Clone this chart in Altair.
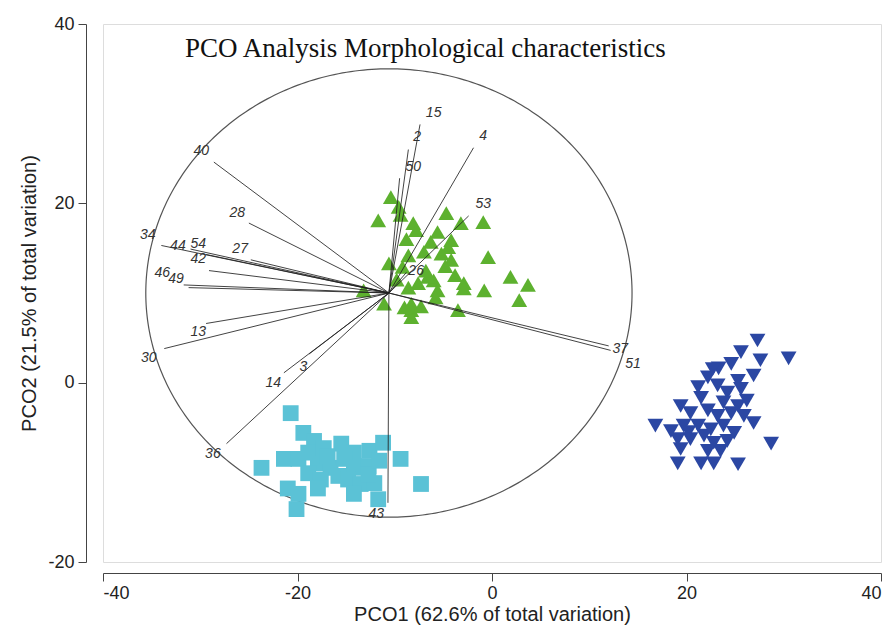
import altair as alt
import numpy as np
import pandas as pd

# ---- sample scores ----
green_x = [-10.4, -11.7, -9.6, -9.4, -8.1, -7.8, -4.7, -5.6, -3.2, -0.9, -4.2, -6.3, -7.0, -5.2, -4.2,
           -8.6, -10.6, -9.2, -0.4, 1.9, 3.7, 2.8, -0.8, -2.9, -2.9, -6.0, -5.6, -7.6, -8.6, -8.3,
           -8.3, -8.3, -9.0, -3.5, -11.1, -13.2, -6.6, -4.5, -6.8, -3.8, -9.8, -5.8, -8.8, -7.3, -4.8]
green_y = [20.7, 18.1, 19.6, 18.7, 17.8, 17.0, 18.9, 16.8, 17.8, 17.9, 15.9, 15.7, 14.6, 14.4, 13.7,
           14.2, 13.3, 12.9, 14.0, 11.8, 10.9, 9.2, 10.3, 11.1, 10.5, 11.4, 10.3, 11.1, 10.6, 8.8,
           8.1, 7.3, 8.4, 8.1, 8.8, 10.3, 11.8, 15.1, 12.5, 12.0, 11.5, 9.5, 16.0, 8.5, 13.0]

blue_x = [27.3, 25.6, 27.6, 24.6, 23.3, 26.9, 25.3, 22.2, 23.2, 24.2, 25.6, 21.5, 23.8, 25.3, 19.4,
          20.4, 22.2, 23.2, 24.6, 25.9, 26.9, 16.8, 18.4, 19.7, 21.2, 22.5, 23.8, 24.9, 19.1, 20.4,
          21.8, 22.8, 23.5, 22.2, 19.4, 19.1, 21.5, 22.8, 25.3, 28.7, 30.5, 21.2, 20.2, 24.2, 22.7, 26.2]
blue_y = [4.7, 3.4, 2.5, 2.1, 1.6, 0.8, 0.2, 0.6, -0.3, -1.1, -0.7, -1.7, -2.2, -2.6, -2.6,
          -3.4, -3.1, -3.7, -3.4, -3.7, -4.5, -4.8, -5.4, -4.8, -4.8, -5.2, -4.8, -5.6, -6.3, -6.3,
          -5.9, -6.7, -7.6, -7.6, -7.4, -9.0, -9.0, -9.0, -9.1, -6.8, 2.7, -0.5, -5.5, -6.5, 1.5, -2.0]

cyan_x = [-20.7, -19.4, -18.3, -23.7, -21.4, -19.9, -18.9, -17.3, -15.5, -14.2, -12.6, -11.2, -9.4,
          -7.3, -17.9, -16.6, -15.2, -14.2, -12.7, -18.9, -17.6, -15.8, -14.8, -13.5, -12.1, -17.9,
          -21.0, -19.9, -20.1, -14.2, -11.7, -12.7, -16.9, -11.6]
cyan_y = [-3.4, -5.6, -6.5, -9.5, -8.5, -8.5, -7.8, -7.3, -6.8, -7.8, -7.6, -6.7, -8.5,
          -11.3, -9.0, -9.5, -8.5, -9.5, -9.3, -10.1, -10.8, -10.4, -10.8, -11.3, -11.2, -11.8,
          -11.8, -12.4, -14.1, -12.4, -13.0, -10.2, -8.2, -8.7]

# ---- variable vectors ----
origin_x, origin_y = -10.6, 10.0
circle_radius = 25.0
vec_names = ["15", "2", "50", "4", "53", "26", "37", "51", "40", "28", "34", "44", "54", "27",
             "42", "46", "49", "13", "30", "14", "3", "36", "43"]
vec_x = [-7.4, -8.6, -9.5, -1.9, -2.4, -8.8, 12.0, 12.2, -28.6, -25.0, -34.0, -31.0, -29.4, -24.8,
         -29.1, -31.7, -31.2, -29.4, -33.7, -21.4, -18.8, -27.3, -10.7]
vec_y = [28.8, 26.0, 22.8, 26.2, 18.6, 12.3, 4.1, 3.6, 24.6, 17.8, 15.3, 14.9, 14.3, 13.7,
         12.5, 10.9, 10.6, 6.6, 3.8, 1.1, 3.2, -6.8, -13.4]
lab_x = [-6.0, -7.7, -8.1, -0.9, -0.9, -7.8, 13.2, 14.5, -29.9, -26.2, -35.4, -32.3, -30.2, -25.9,
         -30.2, -33.9, -32.5, -30.2, -35.3, -22.5, -19.4, -28.7, -11.9]
lab_y = [30.1, 27.4, 24.1, 27.5, 19.9, 12.5, 3.8, 2.1, 25.8, 18.9, 16.5, 15.2, 15.5, 14.9,
         13.8, 12.2, 11.6, 5.7, 2.7, 0.0, 1.8, -8.0, -14.7]

groups = ["A", "B", "C"]
group_colors = ["#5DB12F", "#2B47A3", "#5BC2D6"]
group_shapes = ["triangle-up", "triangle-down", "square"]

pts = pd.concat([
    pd.DataFrame({"x": green_x, "y": green_y, "g": "A"}),
    pd.DataFrame({"x": blue_x, "y": blue_y, "g": "B"}),
    pd.DataFrame({"x": cyan_x, "y": cyan_y, "g": "C"}),
], ignore_index=True)

vec = pd.DataFrame({"name": vec_names, "x": vec_x, "y": vec_y, "lx": lab_x, "ly": lab_y,
                    "x0": origin_x, "y0": origin_y})

theta = np.linspace(0, 2 * np.pi, 361)
circ = pd.DataFrame({"x": origin_x + circle_radius * np.cos(theta),
                     "y": origin_y + circle_radius * np.sin(theta),
                     "o": np.arange(len(theta))})

xs = alt.Scale(domain=[-40, 40], nice=False, zero=False)
ys = alt.Scale(domain=[-20, 40], nice=False, zero=False)

common = dict(grid=False, tickSize=8, labelFontSize=18, titleFontSize=20,
              labelFont="Liberation Sans", titleFont="Liberation Sans", titleFontWeight="normal",
              domainColor="#444", tickColor="#444", labelColor="#222", titleColor="#222",
              labelExpr="'' + datum.value")
xaxis = alt.Axis(values=[-40, -20, 0, 20, 40], title="PCO1 (62.6% of total variation)",
                 offset=11, labelPadding=3, titlePadding=2, **common)
yaxis = alt.Axis(values=[-20, 0, 20, 40], title="PCO2 (21.5% of total variation)",
                 offset=17, labelPadding=4, titlePadding=8, **common)

circle = alt.Chart(circ).mark_line(color="#555", strokeWidth=1.2).encode(
    x=alt.X("x:Q", scale=xs, axis=xaxis),
    y=alt.Y("y:Q", scale=ys, axis=yaxis),
    order="o:Q",
)

points = alt.Chart(pts).mark_point(filled=True, opacity=1).encode(
    x=alt.X("x:Q", scale=xs),
    y=alt.Y("y:Q", scale=ys),
    color=alt.Color("g:N", scale=alt.Scale(domain=groups, range=group_colors), legend=None),
    shape=alt.Shape("g:N", scale=alt.Scale(domain=groups, range=group_shapes), legend=None),
    size=alt.Size("g:N", scale=alt.Scale(domain=groups, range=[250, 250, 230]), legend=None),
)

lines = alt.Chart(vec).mark_rule(color="#222", strokeWidth=1, opacity=0.85).encode(
    x=alt.X("x0:Q", scale=xs), y=alt.Y("y0:Q", scale=ys),
    x2="x:Q", y2="y:Q",
)

labels = alt.Chart(vec).mark_text(font="Liberation Sans", fontStyle="italic", fontSize=14,
                                  color="#333").encode(
    x=alt.X("lx:Q", scale=xs), y=alt.Y("ly:Q", scale=ys), text="name:N",
)

chart = alt.layer(circle, points, lines, labels).properties(
    width=778, height=538,
    autosize=alt.AutoSizeParams(type="none"),
    padding={"left": 103, "top": 24, "right": 15, "bottom": 65},
    title=alt.TitleParams("PCO Analysis Morphological characteristics", font="Liberation Serif",
                          fontSize=27, fontWeight="normal", color="#111", anchor="start",
                          frame="group", dx=82, dy=65, baseline="middle"),
).configure_view(stroke=None).configure(background="white")

chart.save("out.html", embed_options={"renderer": "svg", "actions": False})
